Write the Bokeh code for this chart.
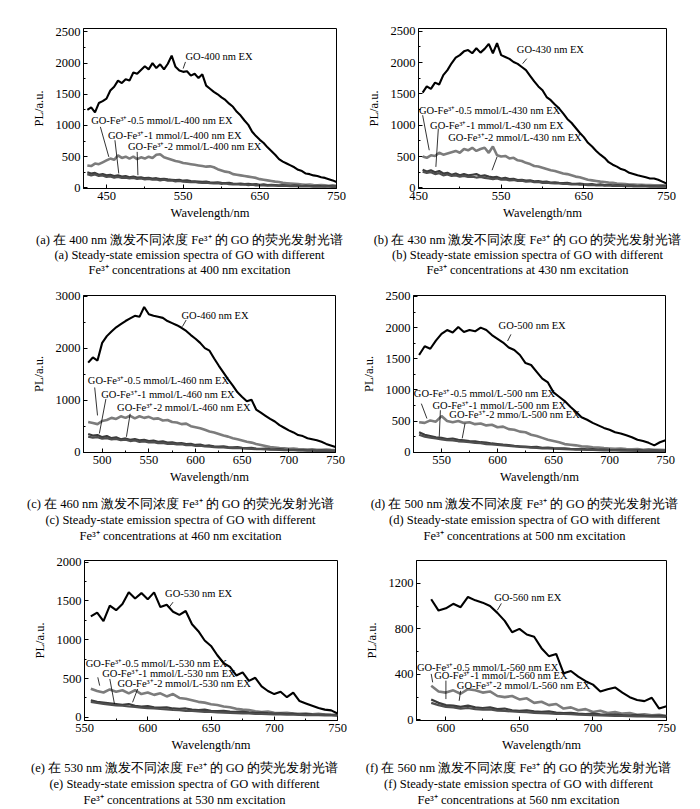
from bokeh.plotting import figure
from bokeh.layouts import column, row
from bokeh.models import FixedTicker, Range1d, Spacer
from bokeh.core.properties import value
from bokeh.embed import file_html
from bokeh.resources import INLINE

# ---------------- data ----------------
wl_a = list(range(425, 755, 5))
go_a = [1250,1290,1210,1360,1390,1430,1560,1620,1720,1680,
        1740,1720,1850,1830,1890,1950,1900,2000,1920,1980,
        1900,1990,2120,1940,1880,1860,1870,1800,1830,1760,
        1820,1640,1590,1540,1500,1450,1410,1350,1300,1220,
        1160,1080,1010,900,830,770,720,650,590,530,
        460,420,390,360,330,290,270,230,220,200,
        190,170,160,140,120,95]
fe05_a = [360,350,390,380,410,440,470,450,520,480,
          500,470,500,460,490,470,500,480,530,540,
          490,470,450,430,420,400,390,380,370,360,
          350,340,345,330,300,280,260,250,220,210,
          200,190,180,170,160,140,130,120,110,100,
          95,80,75,70,65,60,55,50,55,45,
          40,45,40,35,40,35]
fe1_a = [250,230,240,210,220,200,210,190,200,180,
         190,170,180,165,170,155,160,150,155,140,
         145,135,130,125,130,115,120,110,105,100,
         95,100,90,85,90,80,75,80,70,65,
         70,60,65,55,60,50,55,45,50,45,
         40,45,40,35,40,35,30,35,30,28,
         32,28,25,30,25,25]
fe2_a = [220,200,215,190,200,175,185,165,175,160,
         165,150,160,145,150,135,145,130,135,120,
         130,115,120,105,110,100,95,90,95,85,
         80,85,75,70,75,65,70,60,55,60,
         50,55,45,50,40,45,40,35,40,35,
         30,35,30,28,30,25,28,22,25,20,
         22,18,20,18,15,15]

wl_b = list(range(455, 755, 5))
go_b = [1520,1620,1580,1680,1650,1800,1880,1990,2080,2120,
        2180,2200,2150,2230,2160,2220,2300,2150,2310,2120,
        2090,2060,2010,1980,1930,1880,1790,1700,1620,1560,
        1450,1400,1330,1270,1190,1100,1040,960,880,810,
        720,660,590,530,480,410,370,340,300,280,
        240,220,200,185,170,150,150,130,100,70]
fe05_b = [500,480,520,510,560,530,550,570,590,560,
          620,600,640,590,620,640,560,660,520,500,
          510,470,480,440,430,400,380,350,340,320,
          300,280,270,250,230,220,200,180,170,150,
          130,120,110,100,95,85,80,70,65,60,
          55,55,50,48,45,45,42,40,40,38]
fe1_b = [290,260,280,250,270,230,240,210,230,200,
         220,200,210,220,190,200,180,170,175,150,
         160,140,145,125,130,115,120,105,110,95,
         100,85,90,80,75,80,70,65,70,60,
         55,60,50,55,45,50,40,45,40,35,
         40,35,30,35,30,28,30,25,28,25]
fe2_b = [260,240,250,220,235,200,215,190,200,180,
         190,175,180,165,175,160,150,140,150,130,
         135,120,125,110,115,100,105,90,95,80,
         85,75,70,72,62,65,55,58,50,52,
         45,48,40,42,36,38,32,35,30,28,
         30,25,27,22,24,20,22,20,18,18]

wl_c = list(range(485, 755, 5))
go_c = [1720,1820,1760,2100,2230,2320,2400,2460,2520,2570,
        2620,2600,2790,2650,2620,2600,2580,2520,2480,2440,
        2390,2330,2250,2180,2100,2000,1950,1800,1660,1530,
        1400,1280,1150,1060,980,1010,820,760,700,640,
        590,520,470,420,380,330,310,270,250,230,
        200,160,130,100]
fe05_c = [580,560,540,600,620,660,640,690,660,700,
          650,690,660,680,640,650,610,620,580,570,
          540,550,500,480,460,430,400,380,350,320,
          300,270,250,225,200,185,160,140,120,100,
          90,80,75,65,70,60,55,50,55,48,
          45,50,45,42]
fe1_c = [350,320,330,290,310,270,285,250,265,240,
         255,230,240,215,225,200,210,185,190,170,
         175,155,160,140,145,125,130,115,110,115,
         100,95,100,85,80,85,70,65,70,60,
         55,58,50,45,48,40,42,36,38,32,
         34,30,32,28]
fe2_c = [300,280,290,260,270,245,255,230,240,215,
         225,200,210,190,195,175,180,160,165,150,
         155,135,140,120,125,110,105,100,92,95,
         85,80,82,72,70,65,60,58,55,50,
         48,45,42,40,38,35,33,30,30,28,
         26,25,24,22]

wl_d = list(range(530, 755, 5))
go_d = [1560,1700,1660,1790,1900,1960,1920,2010,1930,1960,
        1940,2000,1960,1880,1820,1760,1680,1640,1560,1430,
        1400,1290,1180,1120,960,890,820,730,650,560,
        520,470,430,390,360,320,300,270,240,200,
        180,150,110,160,190]
fe05_d = [480,470,510,490,580,500,480,500,470,480,
          450,460,430,440,400,410,370,360,330,320,
          280,260,230,200,180,160,130,120,110,95,
          90,80,75,65,60,55,60,50,45,50,
          40,45,38,40,35]
fe1_d = [320,280,260,240,230,210,220,200,190,180,
         175,160,155,140,130,120,115,100,95,90,
         80,85,70,75,65,60,62,55,50,52,
         45,48,40,42,38,35,36,32,30,32,
         28,26,28,25,24]
fe2_d = [280,250,235,220,205,195,190,175,170,160,
         150,145,130,125,115,110,100,92,85,80,
         72,70,62,60,55,52,48,45,42,40,
         38,35,33,30,30,28,26,25,24,22,
         22,20,20,18,18]

wl_e = list(range(555, 755, 5))
go_e = [1300,1350,1240,1440,1380,1460,1610,1530,1600,1520,
        1610,1420,1450,1360,1320,1370,1200,1110,990,920,
        800,700,650,540,580,470,510,400,340,300,
        330,260,320,210,180,150,120,100,90,50]
fe05_e = [370,340,320,360,330,350,310,350,300,320,
          290,310,270,300,250,240,220,200,190,170,
          160,140,130,110,100,95,80,70,75,60,
          55,60,50,45,50,40,45,38,35,32]
fe1_e = [220,200,190,180,170,160,170,150,140,145,
         130,125,130,115,110,115,100,95,100,85,
         80,85,75,70,72,65,60,62,55,50,
         52,45,48,40,42,38,35,36,32,30]
fe2_e = [200,185,175,165,155,150,140,135,125,120,
         115,108,102,95,92,85,82,78,72,70,
         65,62,58,55,52,50,46,44,42,40,
         38,36,34,32,30,29,28,26,25,24]

wl_f = list(range(590, 755, 5))
go_f = [1060,960,980,1020,990,1080,1050,1030,1000,940,
        870,770,800,750,730,630,560,580,410,430,
        380,340,310,250,270,285,240,200,175,165,
        195,100,120]
fe05_f = [300,250,240,260,230,270,260,240,250,210,
          200,210,180,190,150,160,130,140,100,110,
          85,95,70,80,60,70,55,60,45,50,
          40,45,35]
fe1_f = [180,150,130,125,115,125,110,105,110,95,
         100,85,80,85,75,70,75,65,60,62,
         55,52,55,48,45,48,42,40,42,38,
         35,38,34]
fe2_f = [150,130,115,110,100,105,95,90,92,82,
         80,74,70,68,62,60,58,54,52,50,
         46,45,42,40,38,36,35,33,32,30,
         29,28,27]

# tick positions
xt_a = [450, 550, 650, 750]; xm_a = [500, 600, 700]
xt_b = [450, 550, 650, 750]; xm_b = [500, 600, 700]
xt_c = [500, 550, 600, 650, 700, 750]; xm_c = [525, 575, 625, 675, 725]
xt_d = [550, 600, 650, 700, 750]; xm_d = [575, 625, 675, 725]
xt_e = [550, 600, 650, 700, 750]; xm_e = [575, 625, 675, 725]
xt_f = [600, 650, 700, 750]; xm_f = [625, 675, 725]
yt_2500 = [0, 500, 1000, 1500, 2000, 2500]; ym_2500 = [250, 750, 1250, 1750, 2250]
yt_3000 = [0, 1000, 2000, 3000]; ym_3000 = [500, 1500, 2500]
yt_2000 = [0, 500, 1000, 1500, 2000]; ym_2000 = [250, 750, 1250, 1750]
yt_1200 = [0, 400, 800, 1200]; ym_1200 = [200, 600, 1000]

exc = {"a": 400, "b": 430, "c": 460, "d": 500, "e": 530, "f": 560}

SERIF = "Liberation Serif"


def captions(k):
    e = exc[k]
    return [f"({k}) 在 {e} nm 激发不同浓度 Fe³⁺ 的 GO 的荧光发射光谱",
            f"({k}) Steady-state emission spectra of GO with different",
            f"Fe³⁺ concentrations at {e} nm excitation"]


def panel(k, wl, go, f05, f1, f2, xr, yr, xt, xm, yt, ym, size, borders,
          notes, leaders, mmo="mmol"):
    w, h = size
    bl, br, bt, bb = borders
    p = figure(width=w, height=h, x_range=xr, y_range=yr,
               output_backend="svg", toolbar_location=None,
               min_border_left=bl, min_border_right=br,
               min_border_top=bt, min_border_bottom=bb)
    p.grid.visible = False
    p.outline_line_color = "black"
    p.outline_line_width = 1
    p.xaxis.ticker = FixedTicker(ticks=xt, minor_ticks=xm)
    p.yaxis.ticker = FixedTicker(ticks=yt, minor_ticks=ym)
    p.xaxis.axis_label = "Wavelength/nm"
    p.yaxis.axis_label = "PL/a.u."
    for ax in (p.xaxis[0], p.yaxis[0]):
        ax.axis_line_color = "black"
        ax.major_tick_in = 4
        ax.major_tick_out = 0
        ax.minor_tick_in = 2
        ax.minor_tick_out = 0
        ax.major_tick_line_color = "black"
        ax.minor_tick_line_color = "black"
        ax.major_label_text_font = SERIF
        ax.major_label_text_font_size = "12.5px"
        ax.major_label_text_color = "black"
        ax.axis_label_text_font = SERIF
        ax.axis_label_text_font_size = "12.5px"
        ax.axis_label_text_font_style = "normal"
        ax.axis_label_text_color = "black"
        ax.major_label_standoff = 3
        ax.axis_label_standoff = 3
    p.yaxis.axis_label_standoff = 7

    p.line(wl, f05, line_color="#7c7c7c", line_width=2.6)
    p.line(wl, f1, line_color="#3c3c3c", line_width=2.2)
    p.line(wl, f2, line_color="#4e4e4e", line_width=2.2)
    p.line(wl, go, line_color="black", line_width=2.1)

    e = exc[k]
    texts = [f"GO-{e} nm EX",
             f"GO-Fe³⁺-0.5 mmol/L-{e} nm EX",
             f"GO-Fe³⁺-1 mmol/L-{e} nm EX",
             f"GO-Fe³⁺-2 {mmo}/L-{e} nm EX"]
    p.text(x=[n[0] for n in notes], y=[n[1] for n in notes], text=texts,
           text_font=value(SERIF), text_font_size="10.5px",
           text_align="left", text_baseline="middle", text_color="black")
    p.segment(x0=[s[0] for s in leaders], y0=[s[1] for s in leaders],
              x1=[s[2] for s in leaders], y1=[s[3] for s in leaders],
              line_color="black", line_width=0.8)
    return p


def caption_strip(height, left_key, right_key, centers, ys):
    c = figure(width=700, height=height, x_range=Range1d(0, 700),
               y_range=Range1d(height, 0), output_backend="svg",
               toolbar_location=None, x_axis_type=None, y_axis_type=None,
               min_border=0, min_border_left=0, min_border_right=0,
               min_border_top=0, min_border_bottom=0)
    c.grid.visible = False
    c.outline_line_color = None
    xs, yy, tt = [], [], []
    for key, cx in zip((left_key, right_key), centers):
        for line, y in zip(captions(key), ys):
            xs.append(cx)
            yy.append(y)
            tt.append(line)
    c.text(x=xs, y=yy, text=tt, text_font=value(SERIF), text_font_size="12.5px",
           text_align="center", text_baseline="middle", text_color="black")
    return c


pa = panel("a", wl_a, go_a, fe05_a, fe1_a, fe2_a, (420, 750), (-10, 2555),
           xt_a, xm_a, yt_2500, ym_2500, (322, 226), (55, 14, 28, 38),
           [(553, 2100), (430, 1074), (452, 844), (478, 657)],
           [(550, 1912, 553, 2019), (442, 978, 453, 497),
            (461, 764, 466, 230), (490, 577, 491, 203)])
pb = panel("b", wl_b, go_b, fe05_b, fe1_b, fe2_b, (450, 750), (-10, 2545),
           xt_b, xm_b, yt_2500, ym_2500, (342, 226), (60, 34, 28, 38),
           [(569, 2208), (450.5, 1240), (464, 1000), (486, 798)],
           [(576, 1984, 581, 2064), (455, 1160, 463, 601),
            (474, 947, 471, 335), (545, 495, 539, 282)])
pc = panel("c", wl_c, go_c, fe05_c, fe1_c, fe2_c, (480, 750), (-5, 3010),
           xt_c, xm_c, yt_3000, ym_3000, (324, 217), (57, 15, 19, 41),
           [(585, 2621), (484.6, 1370), (499, 1105), (516, 853)],
           [(586, 2413, 590, 2539), (492, 1244, 495, 707),
            (504, 1023, 497, 360), (530, 739, 526, 297)])
pd_ = panel("d", wl_d, go_d, fe05_d, fe1_d, fe2_d, (525, 750), (-5, 2515),
            xt_d, xm_d, yt_2500, ym_2500, (342, 217), (55, 35, 19, 41),
            [(601, 2034), (525.3, 948), (542, 752), (557, 604)],
            [(609, 1785, 612, 1891), (532, 779, 537, 540),
             (549, 673, 548, 249), (571, 461, 568.5, 222)],
            mmo="mmo")
pe = panel("e", wl_e, go_e, fe05_e, fe1_e, fe2_e, (550, 750), (-40, 2020),
           xt_e, xm_e, yt_2000, ym_2000, (321, 216), (54, 13, 17, 39),
           [(613.7, 1591), (551, 688), (564, 568), (576, 439)],
           [(617, 1419, 620, 1484), (560.5, 516, 562, 409),
            (570, 495, 573.7, 172), (592, 366, 588, 194)])
pf = panel("f", wl_f, go_f, fe05_f, fe1_f, fe2_f, (580, 750), (-5, 1400),
           xt_f, xm_f, yt_1200, ym_1200, (339, 216), (52, 34, 17, 39),
           [(632.8, 1073), (580.3, 463), (592, 389), (607.4, 301)],
           [(635, 964, 637.7, 1023), (590, 404, 591, 330),
            (600, 345, 600, 183), (610, 256, 609, 168)])

cap1 = caption_strip(50, "a", "b", (189, 527), (13, 28, 43))
cap2 = caption_strip(50, "c", "d", (180, 524), (10, 26, 42))
cap3 = caption_strip(50, "e", "f", (184, 518), (8, 24, 40))

layout = column(
    row(Spacer(width=28, height=226), pa, Spacer(width=8, height=226), pb),
    cap1,
    row(Spacer(width=26, height=217), pc, Spacer(width=8, height=217), pd_),
    cap2,
    row(Spacer(width=29, height=216), pe, Spacer(width=11, height=216), pf),
    cap3,
)
open("out.html", "w").write(file_html(layout, INLINE))
